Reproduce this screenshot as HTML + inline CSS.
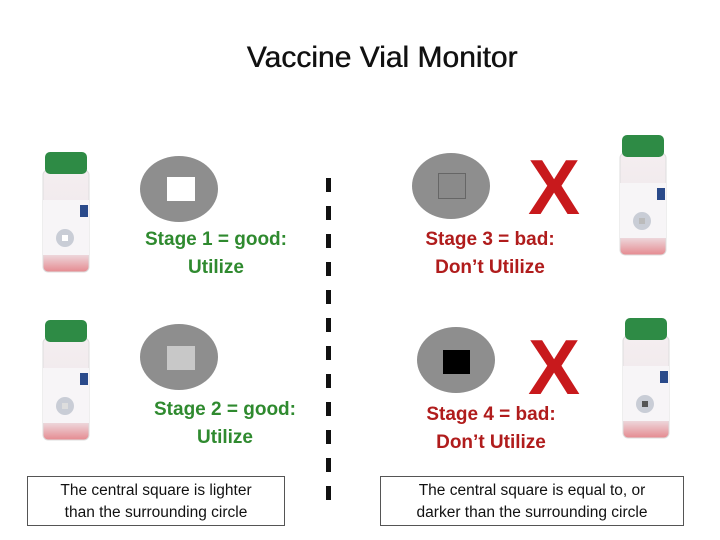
<!DOCTYPE html>
<html><head><style>
body{margin:0;width:720px;height:540px;background:#fff;position:relative;overflow:hidden;font-family:"Liberation Sans",sans-serif}
.a{position:absolute}
.t{position:absolute;font-weight:bold;font-size:19px;text-align:center;line-height:28px;width:220px}
.g{color:#2f8a2f}.r{color:#b01c1c}
.c{position:absolute;width:78px;height:66px;border-radius:50%;background:#8e8e8e}
.x{position:absolute;color:#c8191c;font-weight:bold;font-size:78px;line-height:70px;transform:scaleX(1.0)}
.box{position:absolute;border:1px solid #555;top:476px;height:50px;font-size:15.5px;text-align:center;line-height:22px;padding-top:3px;box-sizing:border-box;color:#111}
.d{position:absolute;left:326px;width:5px;height:14px;background:#111}
</style></head><body>
<div class="a" style="left:0;width:764px;top:41px;text-align:center;font-size:30px;color:#111;text-shadow:0.5px 0 0 #111">Vaccine Vial Monitor</div>

<svg class="a" style="left:0;top:0" width="720" height="540">
<defs><linearGradient id="v" x1="0" y1="0" x2="0" y2="1"><stop offset="0" stop-color="#f4eef0"/><stop offset="0.8" stop-color="#efe6ea"/><stop offset="1" stop-color="#e58a90"/></linearGradient></defs>
<g id="vial">
<rect x="43" y="170" width="46" height="102" rx="5" fill="url(#v)" stroke="#ddd"/>
<rect x="45" y="152" width="42" height="22" rx="5" fill="#2e8b45"/>
<rect x="43" y="200" width="46" height="55" fill="#f7f5f7"/>
<rect x="80" y="205" width="8" height="12" fill="#2a4a8a"/>
<circle cx="65" cy="238" r="9" fill="#c9cdd6"/><rect x="62" y="235" width="6" height="6" fill="#fff"/>
</g>
<g transform="translate(577,-17)">
<rect x="43" y="170" width="46" height="102" rx="5" fill="url(#v)" stroke="#ddd"/>
<rect x="45" y="152" width="42" height="22" rx="5" fill="#2e8b45"/>
<rect x="43" y="200" width="46" height="55" fill="#f7f5f7"/>
<rect x="80" y="205" width="8" height="12" fill="#2a4a8a"/>
<circle cx="65" cy="238" r="9" fill="#c9cdd6"/><rect x="62" y="235" width="6" height="6" fill="#bbb"/>
</g>
<g transform="translate(0,168)">
<rect x="43" y="170" width="46" height="102" rx="5" fill="url(#v)" stroke="#ddd"/>
<rect x="45" y="152" width="42" height="22" rx="5" fill="#2e8b45"/>
<rect x="43" y="200" width="46" height="55" fill="#f7f5f7"/>
<rect x="80" y="205" width="8" height="12" fill="#2a4a8a"/>
<circle cx="65" cy="238" r="9" fill="#c9cdd6"/><rect x="62" y="235" width="6" height="6" fill="#ddd"/>
</g>
<g transform="translate(580,166)">
<rect x="43" y="170" width="46" height="102" rx="5" fill="url(#v)" stroke="#ddd"/>
<rect x="45" y="152" width="42" height="22" rx="5" fill="#2e8b45"/>
<rect x="43" y="200" width="46" height="55" fill="#f7f5f7"/>
<rect x="80" y="205" width="8" height="12" fill="#2a4a8a"/>
<circle cx="65" cy="238" r="9" fill="#c9cdd6"/><rect x="62" y="235" width="6" height="6" fill="#555"/>
</g>
</svg>

<div class="c" style="left:140px;top:156px"><div class="a" style="left:27px;top:21px;width:28px;height:24px;background:#fff"></div></div>
<div class="c" style="left:140px;top:324px"><div class="a" style="left:27px;top:22px;width:28px;height:24px;background:#c8c8c8"></div></div>
<div class="c" style="left:412px;top:153px"><div class="a" style="left:26px;top:20px;width:26px;height:24px;background:#8a8a8a;border:1px solid #666"></div></div>
<div class="c" style="left:417px;top:327px"><div class="a" style="left:26px;top:23px;width:27px;height:24px;background:#000"></div></div>

<div class="x" style="left:528px;top:152px">X</div>
<div class="x" style="left:528px;top:332px">X</div>

<div class="t g" style="left:106px;top:226px">Stage 1 = good:<br>Utilize</div>
<div class="t g" style="left:115px;top:396px">Stage 2 = good:<br>Utilize</div>
<div class="t r" style="left:380px;top:226px">Stage 3 = bad:<br>Don’t Utilize</div>
<div class="t r" style="left:381px;top:401px">Stage 4 = bad:<br>Don’t Utilize</div>

<div class="d" style="top:178px"></div><div class="d" style="top:206px"></div><div class="d" style="top:234px"></div><div class="d" style="top:262px"></div><div class="d" style="top:290px"></div><div class="d" style="top:318px"></div><div class="d" style="top:346px"></div><div class="d" style="top:374px"></div><div class="d" style="top:402px"></div><div class="d" style="top:430px"></div><div class="d" style="top:458px"></div><div class="d" style="top:486px"></div>

<div class="box" style="left:27px;width:258px">The central square is lighter<br>than the surrounding circle</div>
<div class="box" style="left:380px;width:304px">The central square is equal to, or<br>darker than the surrounding circle</div>
</body></html>
